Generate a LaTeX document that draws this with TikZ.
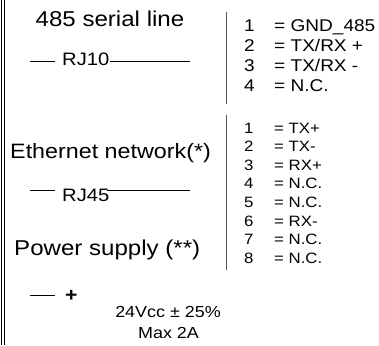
\documentclass[tikz,border=0pt]{standalone}
\usepackage{fontspec}
\setmainfont{Liberation Sans}

\begin{document}
\begin{tikzpicture}[x=1pt,y=-1pt,
  title/.style={inner sep=0pt, xscale=1.12, font=\fontsize{21.5}{24}\selectfont},
  plug/.style={inner sep=0pt, xscale=1.12, font=\fontsize{18}{20}\selectfont},
  pin/.style={inner sep=0pt, xscale=1.12, anchor=base west, font=\fontsize{17}{19}\selectfont},
  small pin/.style={pin, font=\fontsize{15}{17}\selectfont},
  wire/.style={black, line width=0.8pt},
  bar/.style={black!65, line width=0.9pt}]
\useasboundingbox (0,0) rectangle (379,345);
\draw[wire] (1,0) -- (1,345);
\draw[wire] (4,0) -- (4,345);

\node[title, anchor=base] (serial) at (110,27) {485 serial line};
\node[plug, anchor=base west] (rj10) at (62,65) {RJ10};
\coordinate (rj10a) at (30,61);
\coordinate (rj10b) at (55,61);
\coordinate (rj10c) at (110,61);
\coordinate (rj10d) at (190,61);
\draw[wire] (rj10a) -- (rj10b);
\draw[wire] (rj10c) -- (rj10d);

\coordinate (bar1a) at (226,12);
\coordinate (bar1b) at (226,104);
\draw[bar] (bar1a) -- (bar1b);
\foreach \s [count=\i] in {GND\_485, {TX/RX +}, {TX/RX -}, N.C.} {
  \node[pin] (sn\i) at (244,{11+20*\i}) {\i};
  \node[pin] (sv\i) at (274,{11+20*\i}) {= \s};
}

\node[title, anchor=base west, font=\fontsize{20.8}{23}\selectfont] (eth) at (10,158) {Ethernet network(*)};
\node[plug, anchor=base west] (rj45) at (62,201) {RJ45};
\coordinate (rj45a) at (30,190);
\coordinate (rj45b) at (55,190);
\coordinate (rj45c) at (107,190);
\coordinate (rj45d) at (190,190);
\draw[wire] (rj45a) -- (rj45b);
\draw[wire] (rj45c) -- (rj45d);

\coordinate (bar2a) at (226,115);
\coordinate (bar2b) at (226,270);
\draw[bar] (bar2a) -- (bar2b);
\foreach \s [count=\i] in {TX+, TX-, RX+, N.C., N.C., RX-, N.C., N.C.} {
  \node[small pin] (en\i) at (244,{114.4+18.6*\i}) {\i};
  \node[small pin] (ev\i) at (274,{114.4+18.6*\i}) {= \s};
}

\node[title, anchor=base west] (power) at (14,255) {Power supply (**)};
\coordinate (pwra) at (30,295);
\coordinate (pwrb) at (55,295);
\draw[wire] (pwra) -- (pwrb);
\node[plug, anchor=base west, font=\fontsize{19}{21}\bfseries] (plus) at (65,301.5) {+};
\node[pin, anchor=base, font=\fontsize{16}{18}\selectfont] (volt) at (168,317) {24Vcc ± 25\%};
\node[pin, anchor=base, font=\fontsize{16}{18}\selectfont] (amp) at (168.5,338) {Max 2A};
\end{tikzpicture}
\end{document}
